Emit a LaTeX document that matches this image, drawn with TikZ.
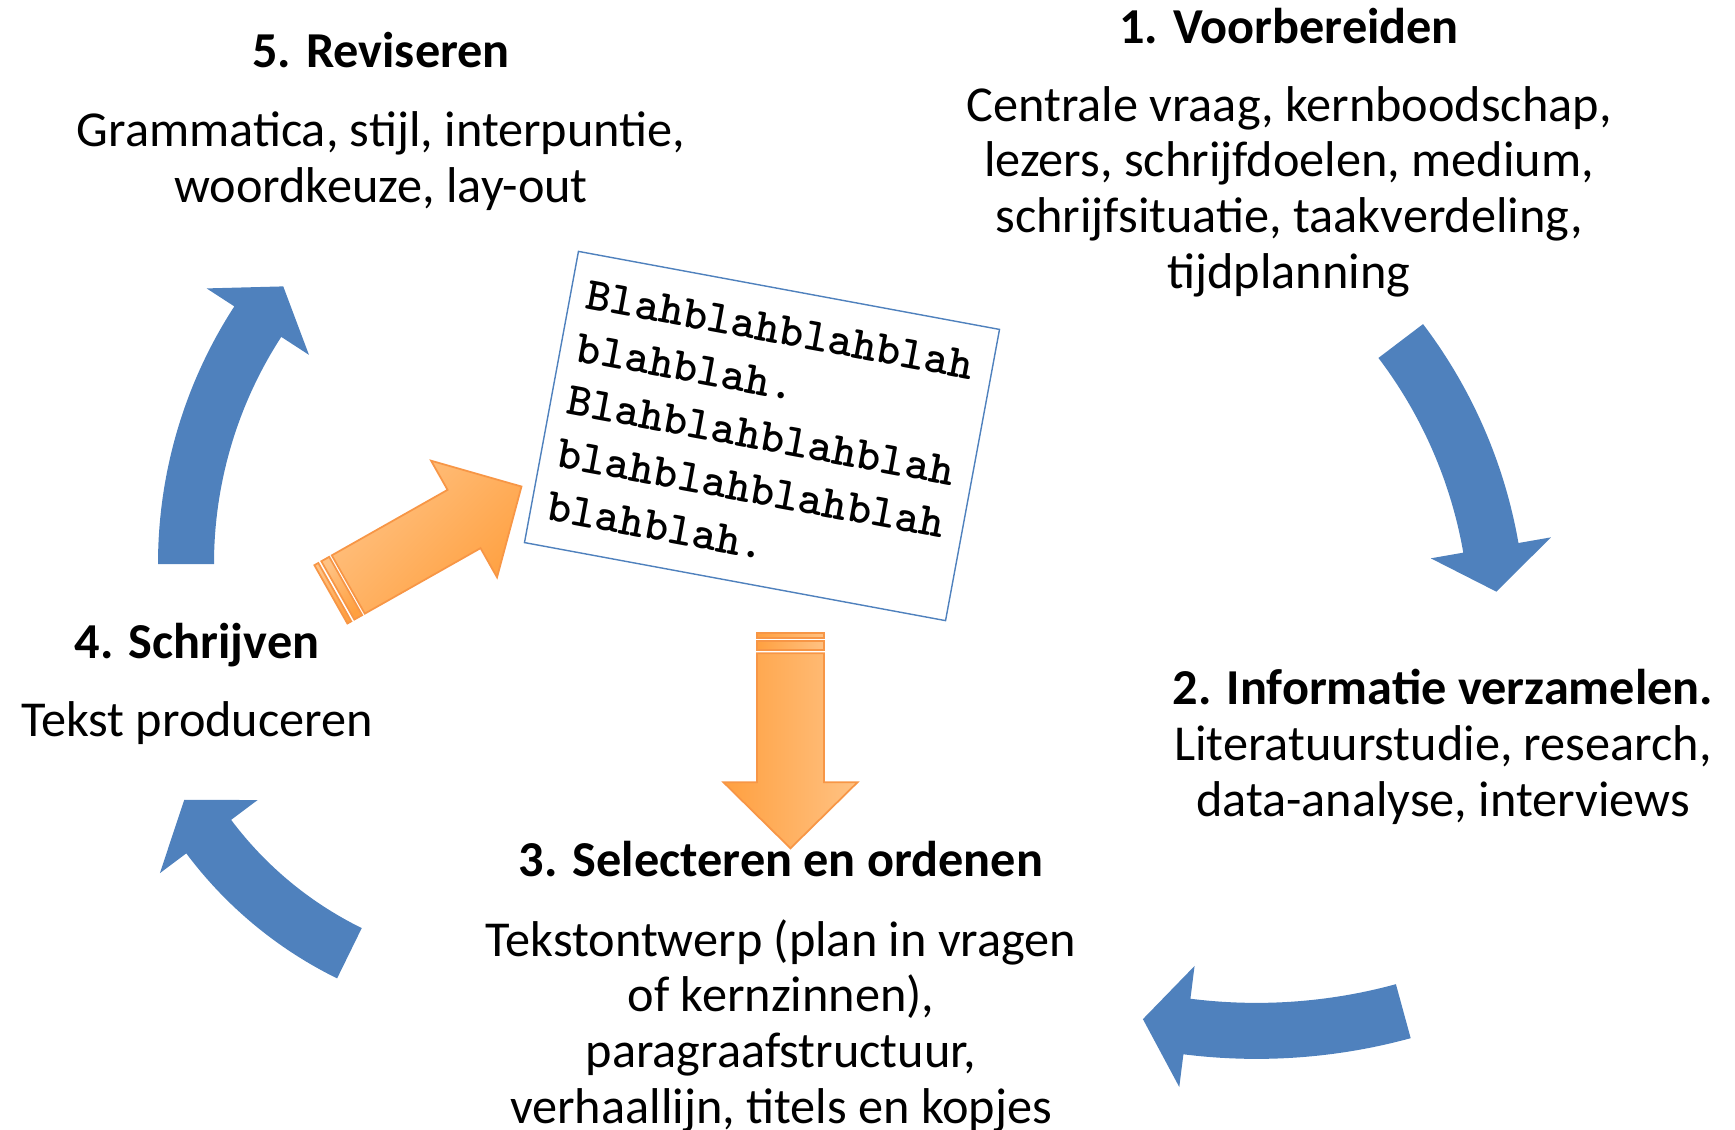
\documentclass[tikz,border=0pt]{standalone}
\usepackage{fontspec}
\setmainfont{Carlito}
\usetikzlibrary{calc}

\definecolor{cycleblue}{HTML}{4F81BD}
\definecolor{arrowline}{HTML}{F79646}
\definecolor{arrowlight}{HTML}{FFC283}
\definecolor{arrowdark}{HTML}{FFA040}

% centre x, centre y, radius, tail angle, neck angle, tip angle
\newcommand{\cyclearrow}[6]{%
  \fill[cycleblue] ($(#1,#2)+({#4}:{#3+28})$) arc[start angle=#4, end angle=#5, radius=#3+28]
    -- ($(#1,#2)+({#5}:{#3+61})$) -- ($(#1,#2)+({#6}:{#3})$) -- ($(#1,#2)+({#5}:{#3-61})$)
    -- ($(#1,#2)+({#5}:{#3-28})$) arc[start angle=#5, end angle=#4, radius=#3-28] -- cycle;}

% length, fill style
\newcommand{\stripedarrow}[2]{%
  \foreach \a/\b in {-20/-15.5, -12/-3}
    \path[orangearrow, #2] (\a,-33.5) rectangle (\b,33.5);
  \path[orangearrow, #2] (0,-33.5) -- (#1-66,-33.5) -- (#1-66,-67) -- (#1,0)
    -- (#1-66,67) -- (#1-66,33.5) -- (0,33.5) -- cycle;}

\begin{document}
\begin{tikzpicture}[x=0.01cm, y=-0.01cm,
    stage/.style={align=center, inner sep=0pt, anchor=base, font=\fontsize{14.3}{15.8}\selectfont},
    draftbox/.style={draw=cycleblue, line width=0.4pt, fill=white, rotate=-10.5, text width=3.95cm,
      inner xsep=0.165cm, minimum height=2.96cm, align=left, font=\ttfamily\bfseries\fontsize{13.3}{15.3}\selectfont},
    orangearrow/.style={draw=arrowline, line width=0.5pt},
    diagfill/.style={top color=arrowlight, bottom color=arrowdark, shading angle=45},
    downfill/.style={left color=arrowdark, right color=arrowlight}]

  \useasboundingbox (0,0) rectangle (1735,1130);

  \node (voorbereiden) [stage] at (1289,288) {\textbf{1. Voorbereiden}\\[6.4pt]Centrale vraag, kernboodschap,\\lezers, schrijfdoelen, medium,\\schrijfsituatie, taakverdeling,\\tijdplanning};
  \node (informatie) [stage] at (1443,816) {\textbf{2. Informatie verzamelen.}\\Literatuurstudie, research,\\data-analyse, interviews};
  \node (selecteren) [stage] at (781,1123) {\textbf{3. Selecteren en ordenen}\\[7pt]Tekstontwerp (plan in vragen\\of kernzinnen),\\paragraafstructuur,\\verhaallijn, titels en kopjes};
  \node (schrijven) [stage] at (197,736) {\textbf{4. Schrijven}\\[6.3pt]Tekst produceren};
  \node (reviseren) [stage] at (381,202) {\textbf{5. Reviseren}\\[6.6pt]Grammatica, stijl, interpuntie,\\woordkeuze, lay-out};

  \node (draft) [draftbox] at (762,436) {Blahblahblahblah\\blahblah.\\Blahblahblahblah\\blahblahblahblah\\blahblah.};

  \cyclearrow{1020}{630}{478}{-37.2}{-9.9}{-4.6}
  \cyclearrow{1256.6}{474.9}{556}{74.7}{97.2}{101.8}
  \cyclearrow{521}{603}{390}{116.1}{143.2}{149.7}
  \cyclearrow{631}{564}{445}{180}{213}{218.6}

  \begin{scope}[shift={(348.3,584.5)}, rotate=29.5]
    \stripedarrow{199}{diagfill}
  \end{scope}
  \begin{scope}[shift={(790.5,653.3)}, rotate=-90]
    \stripedarrow{195}{downfill}
  \end{scope}
\end{tikzpicture}
\end{document}
